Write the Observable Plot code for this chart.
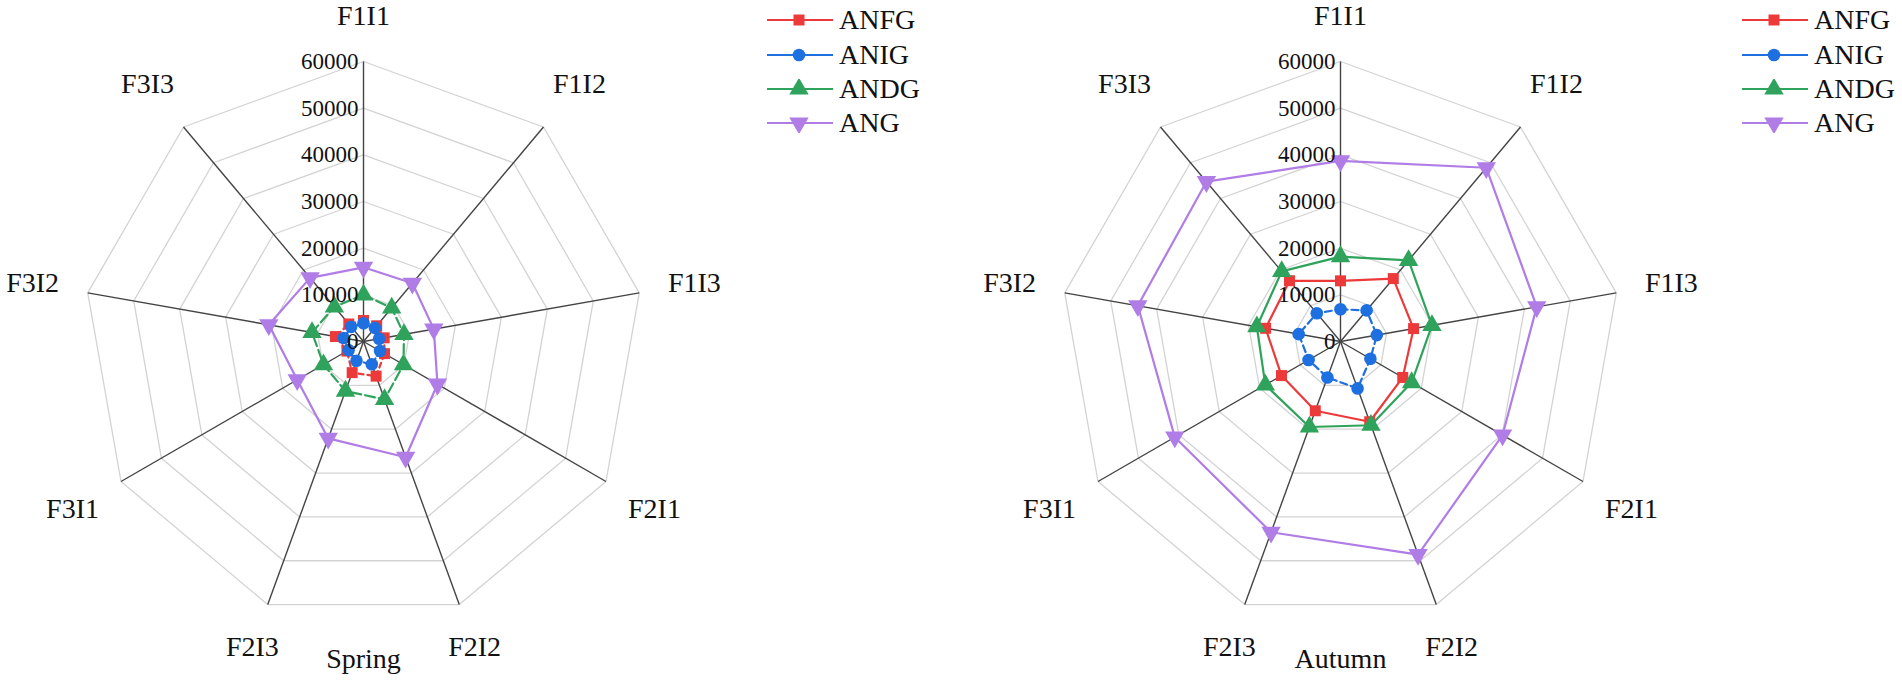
<!DOCTYPE html>
<html><head><meta charset="utf-8">
<script src="https://cdn.jsdelivr.net/npm/d3@7"></script>
<script src="https://cdn.jsdelivr.net/npm/@observablehq/plot@0.6"></script>
<style>
body{margin:0;background:#fff;}
#wrap{display:flex;width:1902px;height:689px;overflow:hidden;}
.panel{position:relative;width:951px;height:689px;}
.legend{position:absolute;top:3px;font-family:"Liberation Serif","Times New Roman",serif;font-size:28px;color:#111;}
.legend .row{display:flex;align-items:center;height:34.4px;}
.legend svg{margin-right:6px;}
</style></head>
<body><div id="wrap"></div>
<script>
// ---- data ----
const categories = ["F1I1","F1I2","F1I3","F2I1","F2I2","F2I3","F3I1","F3I2","F3I3"];
const seriesNames = ["ANFG","ANIG","ANDG","ANG"];
const tickValues = [0,10000,20000,30000,40000,50000,60000];
const panelTitles = ["Spring","Autumn"];
const springANFG = [4500,4400,4500,5200,7900,7100,4100,6100,4900];
const springANIG = [3900,3800,3400,4100,5200,4400,3700,4300,4100];
const springANDG = [10000,9400,8800,9900,13200,11300,9900,11200,9700];
const springANG  = [15900,16300,15300,18300,26400,22100,16400,20600,17800];
const autumnANFG = [13000,17600,15900,15400,18300,15800,14600,16300,17000];
const autumnANIG = [6900,8700,7900,7400,10700,8200,7900,9100,7900];
const autumnANDG = [18200,22700,19900,17600,19100,19500,18600,18200,19600];
const autumnANG  = [38700,48600,42700,40100,48600,43500,41000,44100,44700];

// ---- styles ----
const colors = {ANFG:"#ec3a3a", ANIG:"#1e6fe0", ANDG:"#2fa35c", ANG:"#b07ce6"};
const symbols = {ANFG:"square", ANIG:"circle", ANDG:"triangle", ANG:"triangle"};
const rotations = {ANFG:0, ANIG:0, ANDG:0, ANG:180};
const radii = {ANFG:6.2, ANIG:6.3, ANDG:7.2, ANG:7.2};
const FONT = '"Liberation Serif","Times New Roman",serif';

const W = 951, H = 689, R = 280, MAX = 60000, k = R / MAX;
const N = categories.length;
const ang = i => i * 2 * Math.PI / N;
const pt = (v, i) => ({x: v * Math.sin(ang(i)), y: v * Math.cos(ang(i))});

function panel(values, cx, cy, title, dashes, legendLeft) {
  const rings = tickValues.slice(1).flatMap(t => d3.range(N + 1).map(i => ({ring: t, ...pt(t, i % N)})));
  const spokes = categories.map((c, i) => ({x1: 0, y1: 0, x2: pt(MAX, i).x, y2: pt(MAX, i).y}));
  const labels = categories.map((c, i) => {
    const rr = (Math.abs(Math.cos(ang(i))) > 0.9 ? 325 : 336) / k;
    return {c, ...pt(rr, i)};
  });
  const marks = [
    Plot.line(rings, {x: "x", y: "y", z: "ring", stroke: "#d3d3d3", strokeWidth: 1.3}),
    Plot.link(spokes, {x1: "x1", y1: "y1", x2: "x2", y2: "y2", stroke: "#444", strokeWidth: 1.4})
  ];
  seriesNames.forEach((s, j) => {
    const vals = values[j];
    const line = d3.range(N + 1).map(i => pt(vals[i % N], i % N));
    const dots = vals.map((v, i) => pt(v, i));
    marks.push(Plot.line(line, {x: "x", y: "y", stroke: colors[s], strokeWidth: 2.2,
      strokeDasharray: dashes[j] || null}));
    marks.push(Plot.dot(dots, {x: "x", y: "y", fill: colors[s], stroke: "none",
      symbol: symbols[s], rotate: rotations[s], r: radii[s]}));
  });
  marks.push(Plot.text(tickValues, {x: 0, y: d => d, text: d => String(d), textAnchor: "end",
    dx: -5, fontSize: 23, fontFamily: FONT, fill: "#111"}));
  marks.push(Plot.text(labels, {x: "x", y: "y", text: "c", fontSize: 28, fontFamily: FONT, fill: "#111"}));
  marks.push(Plot.text([title], {x: 0, frameAnchor: "bottom", dy: -22, text: d => d,
    fontSize: 28, fontFamily: FONT, fill: "#111"}));

  const plot = Plot.plot({
    width: W, height: H, margin: 0,
    x: {domain: [-cx / k, (W - cx) / k], range: [0, W], axis: null},
    y: {domain: [-(H - cy) / k, cy / k], range: [H, 0], axis: null},
    style: {background: "#fff", overflow: "visible"},
    marks
  });
  const div = document.createElement("div");
  div.className = "panel";
  div.appendChild(plot);
  // legend
  const lg = document.createElement("div");
  lg.className = "legend";
  lg.style.left = legendLeft + "px";
  seriesNames.forEach(s => {
    const row = document.createElement("div");
    row.className = "row";
    const sym = {square: d3.symbolSquare, circle: d3.symbolCircle, triangle: d3.symbolTriangle}[symbols[s]];
    const path = d3.symbol(sym, Math.PI * radii[s] * radii[s])();
    row.innerHTML = `<svg width="66" height="20"><line x1="0" x2="66" y1="10" y2="10" stroke="${colors[s]}" stroke-width="2.2"/>` +
      `<path d="${path}" fill="${colors[s]}" transform="translate(32,10) rotate(${rotations[s]})"/></svg><span>${s}</span>`;
    lg.appendChild(row);
  });
  div.appendChild(lg);
  return div;
}

const wrap = document.getElementById("wrap");
wrap.appendChild(panel([springANFG, springANIG, springANDG, springANG], 363, 341, panelTitles[0],
  ["5,4", "6,3", "10,4", null], 767));
wrap.appendChild(panel([autumnANFG, autumnANIG, autumnANDG, autumnANG], 389, 341, panelTitles[1],
  [null, "7,4", null, null], 791));
</script>
</body></html>
